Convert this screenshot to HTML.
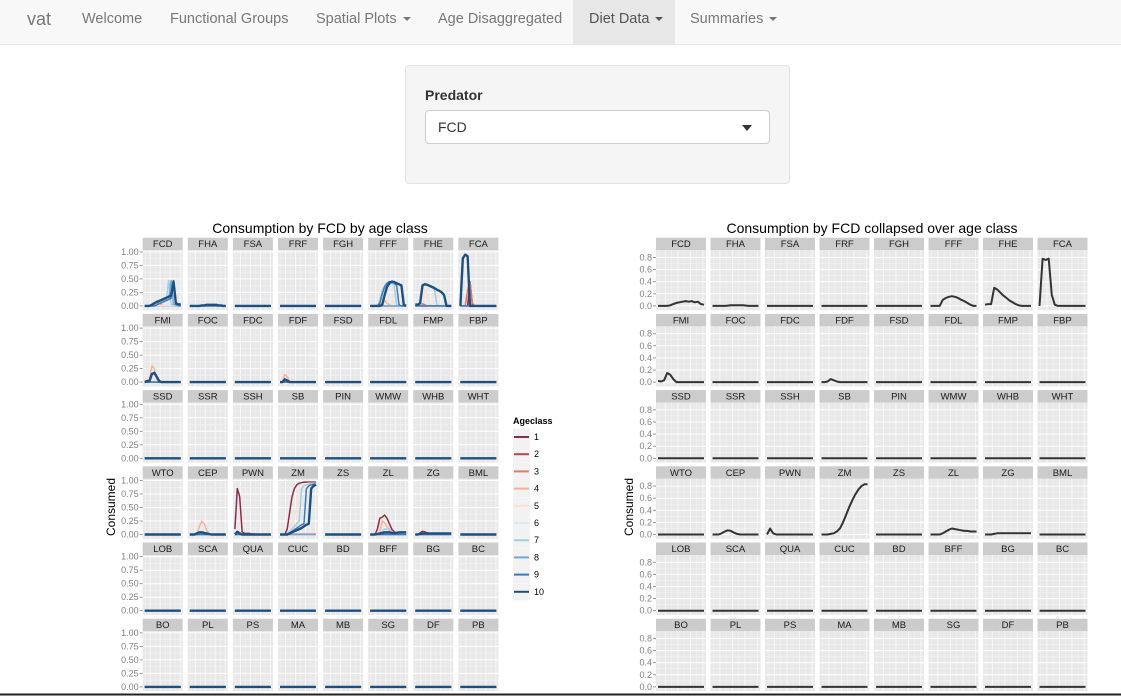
<!DOCTYPE html>
<html><head><meta charset="utf-8">
<style>
body{margin:0;width:1121px;height:696px;overflow:hidden;background:#fff;font-family:"Liberation Sans",sans-serif;position:relative}
.nav{position:absolute;left:0;top:0;width:1121px;height:44px;background:#f8f8f8;border-bottom:1px solid #e7e7e7}
.nav span{position:absolute;top:0;height:44px;line-height:38px;font-size:14.5px;color:#777;white-space:nowrap}
.caret{display:inline-block;width:0;height:0;border-left:4px solid transparent;border-right:4px solid transparent;border-top:4px solid #777;margin-left:6px;vertical-align:middle}
.well{position:absolute;left:405px;top:65px;width:383px;height:117px;background:#f5f5f5;border:1px solid #e3e3e3;border-radius:4px}
.sel{position:absolute;left:19px;top:44px;width:343px;height:32px;background:#fff;border:1px solid #ccc;border-radius:4px}
#chart{position:absolute;left:0;top:0}
</style></head><body>
<div class="nav">
<span style="left:27px;font-size:18px;color:#777">vat</span>
<span style="left:82px">Welcome</span>
<span style="left:170px">Functional Groups</span>
<span style="left:316px">Spatial Plots<i class="caret"></i></span>
<span style="left:438px">Age Disaggregated</span>
<span style="left:573px;width:102px;background:#e7e7e7;color:#555;text-indent:16px">Diet Data<i class="caret" style="border-top-color:#555"></i></span>
<span style="left:690px">Summaries<i class="caret"></i></span>
</div>
<div class="well">
<div style="position:absolute;left:19px;top:21px;font-weight:bold;font-size:14px;color:#333">Predator</div>
<div class="sel">
<span style="position:absolute;left:12px;top:8px;font-size:14px;color:#333">FCD</span>
<span style="position:absolute;right:17px;top:14px;width:0;height:0;border-left:5px solid transparent;border-right:5px solid transparent;border-top:6px solid #333"></span>
</div></div>
<svg id="chart" width="1121" height="696" xmlns="http://www.w3.org/2000/svg" font-family="Liberation Sans, sans-serif"></svg>
<script>
const groups=["FCD","FHA","FSA","FRF","FGH","FFF","FHE","FCA","FMI","FOC","FDC","FDF","FSD","FDL","FMP","FBP","SSD","SSR","SSH","SB","PIN","WMW","WHB","WHT","WTO","CEP","PWN","ZM","ZS","ZL","ZG","BML","LOB","SCA","QUA","CUC","BD","BFF","BG","BC","BO","PL","PS","MA","MB","SG","DF","PB"];
const ageColors=["#8c2d47","#c0404f","#e07a6a","#f4b29a","#fbe0d3","#dde9f1","#a7cde3","#6fa8d2","#3e7ab6","#1d4f80"];
const ageLabels=["1","2","3","4","5","6","7","8","9","10"];
const leftTicks=["1.00","0.75","0.50","0.25","0.00"];
const leftTickVals=[1,0.75,0.5,0.25,0];
const rightTicks=["0.8","0.6","0.4","0.2","0.0"];
const rightTickVals=[0.8,0.6,0.4,0.2,0];
const ageSeries={
FCD:{4:[0,0,0,0,0.04,0.1,0.05,0.02,0,0,0,0,0,0,0,0],7:[0,0,0,0,0,0.02,0.04,0.06,0.08,0.1,0.47,0.03,0.02,0,0,0],8:[0,0,0,0,0,0.02,0.04,0.06,0.08,0.1,0.12,0.47,0.03,0.02,0,0],9:[0,0,0,0,0,0.02,0.04,0.06,0.08,0.1,0.12,0.14,0.47,0.03,0.02,0],10:[0,0,0,0.02,0.05,0.07,0.09,0.11,0.13,0.15,0.17,0.19,0.45,0.05,0.03,0.03]},
FHA:{10:[0,0,0,0,0,0.01,0.01,0.02,0.02,0.02,0.02,0.02,0.01,0.01,0,0]},
FFF:{4:[0,0,0,0,0.02,0.05,0.1,0.05,0.02,0,0,0,0,0,0,0],7:[0,0,0,0,0.1,0.28,0.38,0.43,0.45,0.42,0.38,0.02,0,0,0,0],9:[0,0,0,0,0.05,0.22,0.35,0.42,0.45,0.44,0.42,0.38,0.02,0,0,0],10:[0,0,0,0,0,0.02,0.2,0.35,0.42,0.45,0.44,0.42,0.4,0.38,0.02,0]},
FHE:{3:[0,0,0,0.04,0.02,0,0,0,0,0,0,0,0,0,0,0],5:[0,0,0,0.15,0.3,0.2,0.05,0,0,0,0,0,0,0,0,0],7:[0,0.02,0.03,0.38,0.42,0.4,0.37,0.35,0.3,0.02,0,0,0,0,0,0],10:[0.03,0.02,0.05,0.38,0.4,0.39,0.37,0.35,0.33,0.3,0.28,0.25,0.2,0,0,0]},
FCA:{1:[0,0,0,0,0.45,0.02,0,0,0,0,0,0,0,0,0,0],3:[0,0,0,0.3,0.45,0.05,0,0,0,0,0,0,0,0,0,0],10:[0,0.88,0.95,0.92,0,0,0,0,0,0,0,0,0,0,0,0]},
FMI:{4:[0,0,0.05,0.3,0.25,0.05,0,0,0,0,0,0,0,0,0,0],10:[0,0.02,0.02,0.15,0.17,0.1,0.02,0,0,0,0,0,0,0,0,0]},
FDF:{1:[0,0,0.02,0.03,0,0,0,0,0,0,0,0,0,0,0,0],4:[0,0,0.14,0.1,0.02,0,0,0,0,0,0,0,0,0,0,0],10:[0,0,0.05,0.03,0,0,0,0,0,0,0,0,0,0,0,0]},
CEP:{4:[0,0,0,0,0.15,0.25,0.2,0.08,0.02,0,0,0,0,0,0,0],10:[0,0,0,0.02,0.04,0.04,0.03,0.02,0.01,0,0,0,0,0,0,0]},
PWN:{1:[0.1,0.85,0.7,0.05,0.02,0.02,0.02,0.01,0.01,0,0,0,0,0,0,0],10:[0,0.05,0.02,0,0,0,0,0,0,0,0,0,0,0,0,0]},
ZM:{1:[0,0,0,0.1,0.4,0.7,0.85,0.92,0.95,0.96,0.97,0.97,0.97,0.97,0.97,0.97],3:[0,0,0,0.01,0.01,0.01,0.01,0.01,0.01,0.01,0.01,0.01,0.01,0.01,0.01,0.01],5:[0,0,0,0.02,0.1,0.2,0.3,0.5,0.8,0.9,0.93,0.94,0.95,0.95,0.95,0.95],7:[0,0,0,0.02,0.05,0.1,0.15,0.2,0.25,0.85,0.9,0.92,0.93,0.94,0.94,0.94],9:[0,0,0,0.01,0.03,0.06,0.09,0.12,0.15,0.18,0.2,0.85,0.9,0.92,0.93,0.93],10:[0,0,0,0,0.02,0.04,0.06,0.08,0.1,0.12,0.15,0.18,0.2,0.85,0.9,0.92]},
ZL:{1:[0,0,0,0.1,0.3,0.32,0.36,0.3,0.2,0.1,0.05,0.03,0,0,0,0],4:[0,0,0,0,0.05,0.25,0.22,0.15,0.1,0.05,0.02,0,0,0,0,0],7:[0,0,0,0,0.02,0.05,0.1,0.1,0.08,0.06,0.03,0.02,0,0,0,0],10:[0,0,0,0.01,0.02,0.03,0.04,0.04,0.04,0.03,0.03,0.03,0.04,0.04,0.04,0.04]},
ZG:{1:[0,0,0.03,0.06,0.05,0.03,0.02,0.02,0.02,0.02,0.02,0.02,0.02,0.02,0,0],10:[0,0,0.01,0.02,0.02,0.02,0.02,0.02,0.02,0.02,0.02,0.02,0.02,0.02,0.02,0.02]}
};
const totalSeries={
FCD:[0,0,0,0,0.01,0.03,0.05,0.06,0.07,0.08,0.07,0.08,0.06,0.07,0.03,0.02],
FHA:[0,0,0,0,0,0.005,0.01,0.01,0.01,0.01,0.01,0.005,0,0,0,0],
FFF:[0,0,0,0,0.1,0.13,0.15,0.16,0.15,0.13,0.1,0.08,0.05,0.02,0,0],
FHE:[0.02,0.03,0.03,0.3,0.27,0.22,0.17,0.13,0.09,0.06,0.03,0.01,0,0,0,0],
FCA:[0,0.78,0.76,0.78,0.18,0.02,0,0,0,0,0,0,0,0,0,0],
FMI:[0.02,0.01,0.03,0.15,0.12,0.05,0,0,0,0,0,0,0,0,0,0],
FDF:[0,0,0.01,0.05,0.03,0.01,0,0,0,0,0,0,0,0,0,0],
CEP:[0,0,0,0.02,0.05,0.07,0.06,0.03,0.01,0,0,0,0,0,0,0],
PWN:[0,0.1,0.02,0,0,0,0,0,0,0,0,0,0,0,0,0],
ZM:[0,0,0,0.01,0.02,0.05,0.1,0.2,0.32,0.45,0.56,0.66,0.74,0.8,0.83,0.83],
ZL:[0,0,0,0,0.02,0.05,0.08,0.1,0.09,0.08,0.07,0.06,0.06,0.05,0.05,0.05],
ZG:[0,0,0,0.01,0.02,0.02,0.02,0.02,0.02,0.02,0.02,0.02,0.02,0.02,0.02,0.02]
};
const NS="http://www.w3.org/2000/svg";
const svg=document.getElementById('chart');
function mk(tag,attrs,parent,text){const e=document.createElementNS(NS,tag);for(const k in attrs)e.setAttribute(k,attrs[k]);if(text!==undefined)e.textContent=text;(parent||svg).appendChild(e);return e;}
function facet(cfg){
  const g=mk('g',{});
  
  
  const t=mk('text',{x:cfg.cx,y:233,'text-anchor':'middle','font-size':14,fill:'#000'},g,cfg.title);
  
  
  const yl=mk('text',{x:0,y:0,transform:`translate(${cfg.ylx},507) rotate(-90)`,'text-anchor':'middle','font-size':12,fill:'#000'},g,'Consumed');
  
  
  groups.forEach((gr,i)=>{
    const col=i%8,row=Math.floor(i/8);
    const px=cfg.x0+col*cfg.step, st=237.7+row*76.2, py=st+12.5, ph=60, pw=cfg.pw;
    const y0=py+55.7, ys=v=>y0-v*cfg.scale;
    const xs=k=>px+2+k*(pw-4)/15;
    const p=mk('g',{},g);
    
    
    mk('rect',{x:px,y:st,width:pw,height:12.5,fill:'#cccccc'},p);
    mk('text',{x:px+pw/2,y:st+9.5,'text-anchor':'middle','font-size':9.5,fill:'#1a1a1a'},p,gr);
    mk('rect',{x:px,y:py,width:pw,height:ph,fill:'#e8e8e8'},p);
    for(let j=0;j<cfg.ticks.length-1;j++){const v=(cfg.tickVals[j]+cfg.tickVals[j+1])/2;mk('line',{x1:px,x2:px+pw,y1:ys(v),y2:ys(v),stroke:'#f2f2f2','stroke-width':0.6},p);}
    for(let j=0;j<8;j++){const xx=px+pw*(j+0.5)/8;mk('line',{x1:xx,x2:xx,y1:py,y2:py+ph,stroke:j%2?'#f7f7f7':'#f2f2f2','stroke-width':j%2?1:0.6},p);}
    cfg.tickVals.forEach(v=>mk('line',{x1:px,x2:px+pw,y1:ys(v),y2:ys(v),stroke:'#fff','stroke-width':1},p));
    if(col===0){cfg.ticks.forEach((lab,j)=>{const v=cfg.tickVals[j];
      mk('text',{x:px-4,y:ys(v)+3,'text-anchor':'end','font-size':9,fill:'#7f7f7f'},p,lab);
      mk('line',{x1:px-3,x2:px,y1:ys(v),y2:ys(v),stroke:'#7f7f7f','stroke-width':0.8},p);});}
    cfg.draw(gr,p,xs,ys);
  });
}
function pathD(vals,xs,ys){return vals.map((v,k)=>(k?'L':'M')+xs(k).toFixed(1)+','+ys(v).toFixed(1)).join(' ');}
const zero=new Array(16).fill(0);
facet({name:'age-class-chart',title:'Consumption by FCD by age class',cx:320,ylx:115,x0:142.7,step:45.1,pw:40,scale:54,ticks:leftTicks,tickVals:leftTickVals,
 draw:(gr,p,xs,ys)=>{const s=ageSeries[gr]||{};
  for(let a=1;a<=10;a++){const vals=s[a]||zero;
   const l=mk('path',{d:pathD(vals,xs,ys),fill:'none',stroke:ageColors[a-1],'stroke-width':a===10?2.4:1.5,'stroke-linejoin':'round'},p);
   
   }}});
facet({name:'collapsed-chart',title:'Consumption by FCD collapsed over age class',cx:872,ylx:633,x0:656,step:54.5,pw:50,scale:60.5,ticks:rightTicks,tickVals:rightTickVals,
 draw:(gr,p,xs,ys)=>{const vals=totalSeries[gr]||zero;
   const l=mk('path',{d:pathD(vals,xs,ys),fill:'none',stroke:'#333','stroke-width':2,'stroke-linejoin':'round'},p);
   
   }});
const lg=mk('g',{});


mk('text',{x:513,y:424,'font-size':9,'font-weight':'bold',fill:'#000'},lg,'Ageclass');
ageLabels.forEach((lab,i)=>{const y=437+i*17.2;
 const e=mk('g',{},lg);
 
 
 mk('rect',{x:513,y:y-8.5,width:17,height:17,fill:'#f2f2f2'},e);
 mk('line',{x1:514,x2:529,y1:y,y2:y,stroke:ageColors[i],'stroke-width':2},e);
 mk('text',{x:534,y:y+3,'font-size':9,fill:'#000'},e,lab);});
mk('line',{x1:0,x2:1121,y1:694.5,y2:694.5,stroke:'#222','stroke-width':2});
</script>
</body></html>
